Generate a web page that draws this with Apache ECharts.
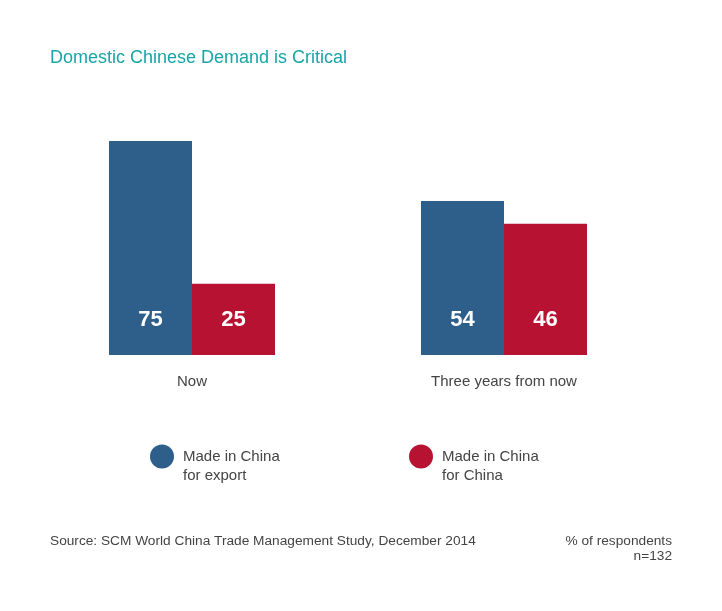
<!DOCTYPE html>
<html>
<head>
<meta charset="utf-8">
<script src="https://cdn.jsdelivr.net/npm/echarts@6/dist/echarts.min.js"></script>
<style>html,body{margin:0;padding:0;background:#fff;}#c{width:722px;height:611px;}</style>
</head>
<body>
<div id="c"></div>
<script>
const categories = ['Now', 'Three years from now'];
const seriesNames = ['Made in China\nfor export', 'Made in China\nfor China'];
const exportValues = [75, 54];
const chinaValues = [25, 46];
const colors = ['#2e5e8a', '#b81233'];

const font = '"Liberation Sans", Arial, Helvetica, sans-serif';
const chart = echarts.init(document.getElementById('c'), null, {renderer: 'canvas'});

const labelCfg = {
  show: true,
  position: 'insideBottom',
  distance: 24,
  color: '#ffffff',
  fontFamily: font,
  fontWeight: 'bold',
  fontSize: 22
};

const legendText = {color: '#444', fontFamily: font, fontSize: 15, lineHeight: 19, padding: [0, 0, 0, 4]};
const legendFmt = function (name) { return '\n' + name; };

chart.setOption({
  backgroundColor: '#ffffff',
  animation: false,
  title: [{
    text: 'Domestic Chinese Demand is Critical',
    left: 45, top: 44,
    textStyle: {color: '#17a5a8', fontFamily: font, fontSize: 18, fontWeight: 'normal'}
  }],
  legend: [
    {data: [seriesNames[0]], left: 145, top: 423, icon: 'circle', itemWidth: 24, itemHeight: 24, textStyle: legendText, formatter: legendFmt},
    {data: [seriesNames[1]], left: 404, top: 423, icon: 'circle', itemWidth: 24, itemHeight: 24, textStyle: legendText, formatter: legendFmt}
  ],
  grid: {left: 36, right: 62, top: 141, bottom: 256},
  xAxis: {
    type: 'category',
    data: categories,
    axisLine: {show: false},
    axisTick: {show: false},
    axisLabel: {color: '#444', fontFamily: font, fontSize: 15, margin: 19}
  },
  yAxis: {type: 'value', min: 0, max: 75, show: false, splitLine: {show: false}},
  series: [
    {name: seriesNames[0], type: 'bar', data: exportValues, barWidth: 83, barGap: '0%',
     itemStyle: {color: colors[0]}, label: labelCfg},
    {name: seriesNames[1], type: 'bar', data: chinaValues, barWidth: 83, barGap: '0%',
     itemStyle: {color: colors[1]}, label: labelCfg}
  ],
  graphic: [
    {type: 'text', x: 50, y: 541,
     style: {text: 'Source: SCM World China Trade Management Study, December 2014', fill: '#444', font: '13.7px ' + font, verticalAlign: 'middle'}},
    {type: 'text', x: 672, y: 541,
     style: {text: '% of respondents', fill: '#444', font: '13.7px ' + font, align: 'right', verticalAlign: 'middle'}},
    {type: 'text', x: 672, y: 556,
     style: {text: 'n=132', fill: '#444', font: '13.7px ' + font, align: 'right', verticalAlign: 'middle'}}
  ]
});
</script>
</body>
</html>
